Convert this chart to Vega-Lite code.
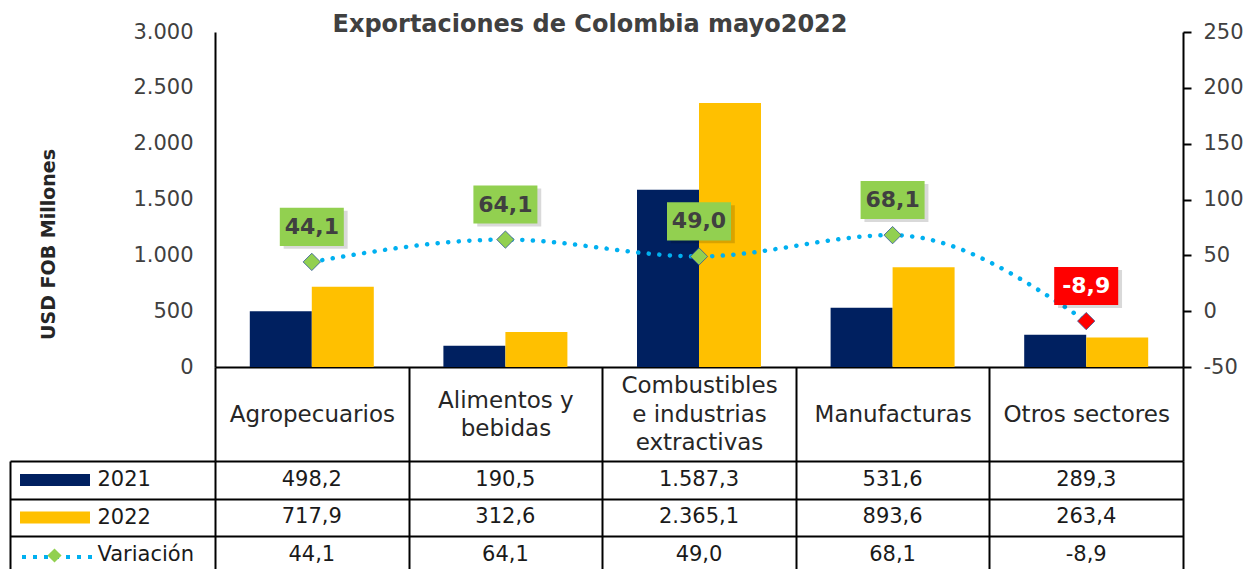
{
  "$schema": "https://vega.github.io/schema/vega-lite/v6.json",
  "padding": {"left": 9, "top": 13, "right": 5, "bottom": 0},
  "background": "#ffffff",
  "bounds": "flush",
  "spacing": 94,
  "config": {
    "font": "DejaVu Sans",
    "view": {"stroke": null},
    "locale": {"number": {"decimal": ",", "thousands": ".", "grouping": [3], "currency": ["", ""], "minus": "-"}},
    "legend": {"padding": 0, "offset": 0}
  },
  "datasets": {
    "bars": [
      {"sector": "Agropecuarios", "year": "2021", "value": 498.2},
      {"sector": "Agropecuarios", "year": "2022", "value": 717.9},
      {"sector": "Alimentos y bebidas", "year": "2021", "value": 190.5},
      {"sector": "Alimentos y bebidas", "year": "2022", "value": 312.6},
      {"sector": "Combustibles e industrias extractivas", "year": "2021", "value": 1587.3},
      {"sector": "Combustibles e industrias extractivas", "year": "2022", "value": 2365.1},
      {"sector": "Manufacturas", "year": "2021", "value": 531.6},
      {"sector": "Manufacturas", "year": "2022", "value": 893.6},
      {"sector": "Otros sectores", "year": "2021", "value": 289.3},
      {"sector": "Otros sectores", "year": "2022", "value": 263.4}
    ],
    "var": [
      {"sector": "Agropecuarios", "var": 44.1},
      {"sector": "Alimentos y bebidas", "var": 64.1},
      {"sector": "Combustibles e industrias extractivas", "var": 49.0},
      {"sector": "Manufacturas", "var": 68.1},
      {"sector": "Otros sectores", "var": -8.9}
    ]
  },
  "resolve": {
    "scale": {"color": "independent", "stroke": "independent", "shape": "independent"},
    "legend": {"color": "independent", "stroke": "independent", "shape": "independent"}
  },
  "vconcat": [
    {
      "width": 968,
      "height": 335,
      "title": {"text": "Exportaciones de Colombia mayo2022", "fontSize": 24, "fontWeight": "bold", "color": "#404040", "anchor": "middle", "dx": -109, "offset": -16},
      "layer": [
        {
          "data": {"name": "bars"},
          "mark": {"type": "bar"},
          "encoding": {
            "x": {
              "field": "sector", "type": "nominal", "sort": null,
              "scale": {"domain": ["Agropecuarios", "Alimentos y bebidas", "Combustibles e industrias extractivas", "Manufacturas", "Otros sectores"], "paddingInner": 0, "paddingOuter": 0},
              "axis": {
                "orient": "bottom", "title": null, "domain": true, "domainColor": "#000000", "domainWidth": 2,
                "ticks": true, "tickSize": 94, "tickColor": "#000000", "tickWidth": 2, "tickBand": "extent",
                "labelPadding": {"condition": [{"test": "datum.value == 'Combustibles e industrias extractivas'", "value": -75.5}, {"test": "datum.value == 'Alimentos y bebidas'", "value": -61}], "value": -47},
                "labelBaseline": "middle", "labelFontSize": 23, "labelColor": "#262626",
                "labelLineHeight": 28.5, "labelAngle": 0, "labelLimit": 0, "labelOverlap": false, "labelBound": false,
                "labelExpr": "datum.value == 'Alimentos y bebidas' ? ['Alimentos y', 'bebidas'] : datum.value == 'Combustibles e industrias extractivas' ? ['Combustibles', 'e industrias', 'extractivas'] : datum.value"
              }
            },
            "xOffset": {"field": "year", "type": "nominal", "scale": {"paddingInner": 0, "paddingOuter": 0.5613}},
            "y": {
              "field": "value", "type": "quantitative",
              "scale": {"domain": [0, 3000], "nice": false},
              "axis": {
                "orient": "left", "values": [0, 500, 1000, 1500, 2000, 2500, 3000], "format": ",.0f",
                "domainColor": "#000000", "domainWidth": 2, "ticks": false, "grid": false,
                "labelPadding": 22, "labelFontSize": 21, "labelColor": "#404040",
                "title": "USD FOB Millones", "titleFontSize": 19, "titleFontWeight": "bold", "titleColor": "#262626", "titlePadding": 74, "titleY": 212
              }
            },
            "color": {
              "field": "year", "type": "nominal",
              "scale": {"domain": ["2021", "2022"], "range": ["#002060", "#FFC000"]},
              "legend": {"orient": "none", "legendX": -166, "legendY": 442, "symbolType": "M-5.833,-1H5.833V1H-5.833Z", "symbolSize": 144, "symbolStrokeWidth": 0, "labelExpr": "''", "labelFontSize": 1, "title": null, "rowPadding": 25.5}
            }
          }
        },
        {
          "data": {"name": "var"},
          "encoding": {
            "x": {"field": "sector", "type": "nominal", "sort": null},
            "y": {
              "field": "var", "type": "quantitative",
              "scale": {"domain": [-50, 250], "nice": false},
              "axis": {
                "orient": "right", "values": [-50, 0, 50, 100, 150, 200, 250], "format": "d",
                "domainColor": "#000000", "domainWidth": 2, "ticks": true, "tickSize": 8, "tickWidth": 2, "tickColor": "#000000",
                "grid": false, "labelPadding": 12, "labelFontSize": 21, "labelColor": "#404040", "title": null
              }
            }
          },
          "layer": [
            {
              "mark": {"type": "line", "interpolate": "monotone", "strokeWidth": 4.5, "strokeDash": [0.1, 10.5], "strokeCap": "round"},
              "encoding": {
                "stroke": {"datum": "Variación", "type": "nominal", "scale": {"range": ["#00B0F0"]},
                  "legend": {"orient": "none", "legendX": -195, "legendY": 488, "symbolType": "stroke", "symbolSize": 4900, "symbolStrokeWidth": 4, "symbolDash": [4, 7], "labelExpr": "''", "labelFontSize": 1, "title": null}}
              }
            },
            {
              "mark": {"type": "point", "filled": true, "size": 300, "stroke": "#2F5597", "strokeWidth": 0.8, "opacity": 1},
              "encoding": {
                "shape": {"datum": "rombo", "type": "nominal", "scale": {"range": ["diamond"]},
                  "legend": {"orient": "none", "legendX": -168, "legendY": 516, "symbolSize": 200, "symbolFillColor": "#92D050", "symbolStrokeColor": "#2F5597", "symbolStrokeWidth": 0.8, "labelExpr": "''", "labelFontSize": 1, "title": null}},
                "fill": {"condition": {"test": "datum.var < 0", "value": "#FF0000"}, "value": "#92D050"}
              }
            },
            {
              "mark": {"type": "point", "shape": "M-0.88,-1.6H1.12V-0.41H-0.88Z", "size": 4096, "filled": true, "fill": "#000000", "opacity": 0.15, "strokeWidth": 0}
            },
            {
              "mark": {"type": "point", "shape": "M-1,-1.69H1V-0.5H-1Z", "size": 4096, "filled": true, "strokeWidth": 0, "opacity": 1},
              "encoding": {
                "fill": {"condition": {"test": "datum.var < 0", "value": "#FF0000"}, "value": "#92D050"}
              }
            },
            {
              "mark": {"type": "text", "dy": -35, "fontSize": 22, "fontWeight": "bold", "baseline": "middle", "align": "center"},
              "encoding": {
                "text": {"field": "var", "type": "quantitative", "format": ".1f"},
                "color": {"condition": {"test": "datum.var < 0", "value": "#FFFFFF"}, "value": "#404040"}
              }
            }
          ]
        }
      ],
      "resolve": {"scale": {"y": "independent"}}
    },
    {
      "width": 968,
      "height": 112.5,
      "encoding": {
        "x": {
          "field": "sector", "type": "nominal", "sort": null,
          "scale": {"domain": ["Agropecuarios", "Alimentos y bebidas", "Combustibles e industrias extractivas", "Manufacturas", "Otros sectores"], "paddingInner": 0, "paddingOuter": 0},
          "axis": {"orient": "top", "title": null, "labels": false, "ticks": false, "domain": false, "grid": true, "gridColor": "#000000", "gridWidth": 2, "gridOpacity": 1, "tickBand": "extent"}
        }
      },
      "layer": [
        {
          "data": {"name": "bars"},
          "mark": {"type": "text", "fontSize": 21, "color": "#1a1a1a", "baseline": "middle"},
          "encoding": {
            "y": {
              "field": "year", "type": "nominal",
              "scale": {"domain": ["2021", "2022", "Variación"], "paddingInner": 0, "paddingOuter": 0},
              "axis": {
                "orient": "left", "offset": 205, "title": null, "domain": true, "domainColor": "#000000", "domainWidth": 2,
                "ticks": true, "tickSize": -205, "tickColor": "#000000", "tickWidth": 2, "tickBand": "extent",
                "grid": true, "gridColor": "#000000", "gridWidth": 2, "gridOpacity": 1,
                "labelAlign": "left", "labelPadding": 118, "labelFontSize": 21, "labelColor": "#1a1a1a", "labelBaseline": "middle"
              }
            },
            "text": {"field": "value", "type": "quantitative", "format": ",.1f"}
          }
        },
        {
          "data": {"name": "var"},
          "mark": {"type": "text", "fontSize": 21, "color": "#1a1a1a", "baseline": "middle"},
          "encoding": {
            "y": {"datum": "Variación", "type": "nominal", "scale": {"domain": ["2021", "2022", "Variación"], "paddingInner": 0, "paddingOuter": 0}},
            "text": {"field": "var", "type": "quantitative", "format": ",.1f"}
          }
        }
      ]
    }
  ]
}
